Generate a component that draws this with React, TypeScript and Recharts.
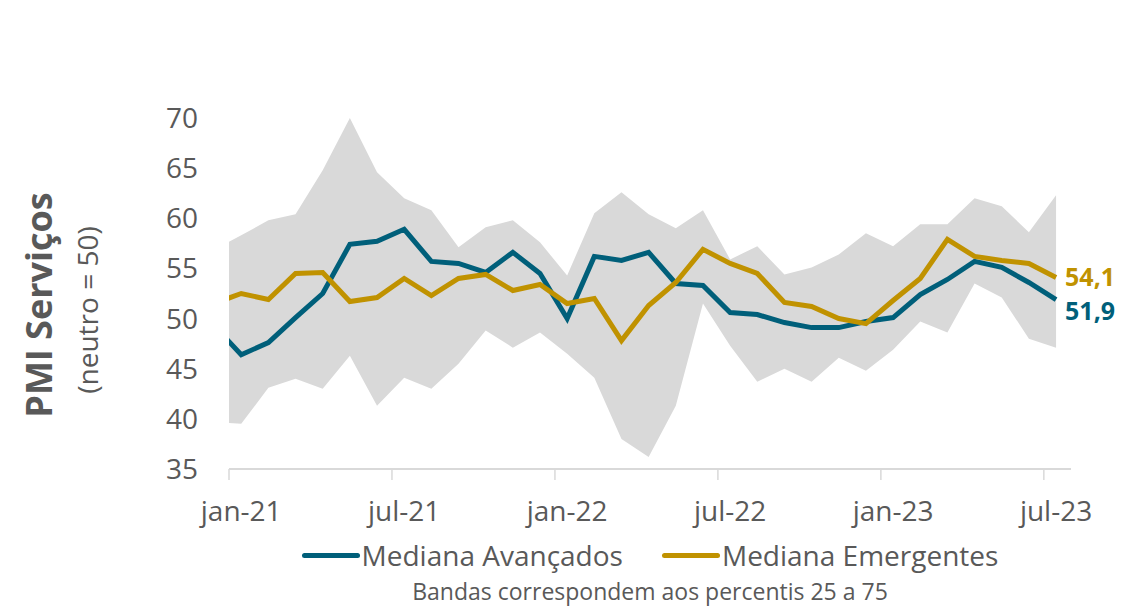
import React from 'react';
import { ComposedChart, Area, Line, XAxis, YAxis, Legend, LabelList } from 'recharts';

const months = [
  'dez-20',
  'jan-21', 'fev-21', 'mar-21', 'abr-21', 'mai-21', 'jun-21', 'jul-21', 'ago-21', 'set-21', 'out-21', 'nov-21', 'dez-21',
  'jan-22', 'fev-22', 'mar-22', 'abr-22', 'mai-22', 'jun-22', 'jul-22', 'ago-22', 'set-22', 'out-22', 'nov-22', 'dez-22',
  'jan-23', 'fev-23', 'mar-23', 'abr-23', 'mai-23', 'jun-23', 'jul-23',
];

const avancados = [
  49.3,
  46.4, 47.6, 50.1, 52.5, 57.4, 57.7, 58.9, 55.7, 55.5, 54.6, 56.6, 54.5,
  50.0, 56.2, 55.8, 56.6, 53.5, 53.3, 50.6, 50.4, 49.6, 49.1, 49.1, 49.7,
  50.1, 52.4, 53.9, 55.7, 55.1, 53.6, 51.9,
];

const emergentes = [
  51.5,
  52.5, 51.9, 54.5, 54.6, 51.7, 52.1, 54.0, 52.3, 54.0, 54.4, 52.8, 53.4,
  51.5, 52.0, 47.8, 51.3, 53.6, 56.9, 55.5, 54.5, 51.6, 51.2, 50.0, 49.5,
  51.8, 54.0, 57.9, 56.2, 55.8, 55.5, 54.1,
];

const p25 = [
  39.7,
  39.5, 43.1, 44.0, 43.0, 46.3, 41.3, 44.1, 43.0, 45.5, 48.8, 47.1, 48.6,
  46.5, 44.1, 38.0, 36.2, 41.3, 51.5, 47.3, 43.7, 45.0, 43.7, 46.1, 44.8,
  46.9, 49.7, 48.6, 53.5, 52.1, 48.0, 47.1,
];

const p75 = [
  56.9,
  58.3, 59.8, 60.4, 64.8, 70.0, 64.6, 62.0, 60.8, 57.1, 59.1, 59.8, 57.6,
  54.3, 60.5, 62.6, 60.4, 59.0, 60.8, 55.9, 57.2, 54.4, 55.1, 56.4, 58.5,
  57.2, 59.4, 59.4, 62.0, 61.2, 58.6, 62.3,
];

const tickLabels = ['jan-21', 'jul-21', 'jan-22', 'jul-22', 'jan-23', 'jul-23'];
const yTicks = [35, 40, 45, 50, 55, 60, 65, 70];

const TEAL = '#005F7A';
const GOLD = '#C09200';
const BAND = '#D9D9D9';
const TEXT = '#595959';
const FONT = '"Open Sans", sans-serif';

const CHART_W = 1140;
const CHART_H = 606;
const MARGIN = { top: 118, right: 69, bottom: 77, left: 0 };
const Y_AXIS_W = 229;
const X_DOMAIN: [number, number] = [0, 31];
const PX_PER_MONTH = (CHART_W - MARGIN.left - MARGIN.right - Y_AXIS_W) / (X_DOMAIN[1] - X_DOMAIN[0]);

// points sit mid-month; the first month (dez-20) is clipped by the axis start
const POINT_OFFSET = 0.45;
const data = months.map((m, i) => ({
  month: m,
  x: i - 1 + POINT_OFFSET,
  avancados: avancados[i],
  emergentes: emergentes[i],
  band: [p25[i], p75[i]],
}));
const boundaryTicks = tickLabels.map((_, i) => i * 6);

const fmt = (v: number) => v.toFixed(1).replace('.', ',');

const XTick = (props: any) => {
  const { x, y, payload } = props;
  const label = tickLabels[Math.round(payload.value / 6)];
  return (
    <text
      x={x + POINT_OFFSET * PX_PER_MONTH}
      y={y}
      dy="0.71em"
      textAnchor="middle"
      fill={TEXT}
      fontSize={28}
      fontFamily={FONT}
    >
      {label}
    </text>
  );
};

const endLabel = (color: string, dy: number) => (props: any) => {
  const { index, x, y, value } = props;
  if (index !== data.length - 1) return null;
  return (
    <text
      x={x + 9}
      y={y + dy}
      fill={color}
      fontFamily={FONT}
      fontSize={25}
      fontWeight={700}
      dominantBaseline="central"
    >
      {fmt(value)}
    </text>
  );
};

const renderLegend = (props: any) => {
  const items = (props.payload || []).filter((p: any) => p.type !== 'none');
  return (
    <div
      style={{
        display: 'flex',
        justifyContent: 'center',
        alignItems: 'center',
        gap: 39,
        fontFamily: FONT,
        fontSize: 28,
        color: TEXT,
        height: 40,
        lineHeight: '40px',
        whiteSpace: 'nowrap',
      }}
    >
      {items.map((p: any) => (
        <span key={p.value} style={{ display: 'flex', alignItems: 'center' }}>
          <span
            style={{
              display: 'inline-block',
              width: 58,
              height: 5,
              borderRadius: 3,
              background: p.color,
              marginRight: 2,
            }}
          />
          {p.value}
        </span>
      ))}
    </div>
  );
};

export default function App() {
  return (
    <div style={{ position: 'relative', width: CHART_W, height: CHART_H, background: '#fff', fontFamily: FONT }}>
      <style>{`body{margin:0}`}</style>
      <ComposedChart width={CHART_W} height={CHART_H} data={data} margin={MARGIN}>
        <XAxis
          type="number"
          dataKey="x"
          domain={X_DOMAIN}
          allowDataOverflow
          ticks={boundaryTicks}
          interval={0}
          tick={<XTick />}
          tickLine={{ stroke: BAND, strokeWidth: 1.5 }}
          tickSize={11}
          tickMargin={21}
          axisLine={{ stroke: BAND, strokeWidth: 2 }}
          height={60}
        />
        <YAxis
          type="number"
          domain={[35, 70]}
          allowDataOverflow
          ticks={yTicks}
          interval={0}
          width={Y_AXIS_W}
          axisLine={false}
          tickLine={false}
          tickSize={0}
          tickMargin={31}
          tick={{ fill: TEXT, fontSize: 28, fontFamily: FONT }}
        />
        <Area
          dataKey="band"
          name="Bandas"
          fill={BAND}
          fillOpacity={1}
          stroke="none"
          legendType="none"
          dot={false}
          activeDot={false}
          isAnimationActive={false}
        />
        <Line
          dataKey="avancados"
          name="Mediana Avançados"
          stroke={TEAL}
          strokeWidth={5}
          dot={false}
          activeDot={false}
          isAnimationActive={false}
        >
          <LabelList dataKey="avancados" content={endLabel(TEAL, 10)} />
        </Line>
        <Line
          dataKey="emergentes"
          name="Mediana Emergentes"
          stroke={GOLD}
          strokeWidth={5}
          dot={false}
          activeDot={false}
          isAnimationActive={false}
        >
          <LabelList dataKey="emergentes" content={endLabel(GOLD, -1)} />
        </Line>
        <Legend
          verticalAlign="middle"
          align="center"
          layout="horizontal"
          content={renderLegend}
          wrapperStyle={{ top: 535, left: 229, width: 842, height: 40 }}
        />
      </ComposedChart>

      <div
        style={{
          position: 'absolute',
          left: 38,
          top: 305,
          transform: 'translate(-50%, -50%) rotate(-90deg)',
          whiteSpace: 'nowrap',
          fontSize: 36,
          fontWeight: 700,
          color: TEXT,
        }}
      >
        PMI Serviços
      </div>
      <div
        style={{
          position: 'absolute',
          left: 87,
          top: 310,
          transform: 'translate(-50%, -50%) rotate(-90deg)',
          whiteSpace: 'nowrap',
          fontSize: 28,
          color: TEXT,
        }}
      >
        (neutro = 50)
      </div>
      <div
        style={{
          position: 'absolute',
          left: 229,
          width: 842,
          top: 575,
          textAlign: 'center',
          fontSize: 23,
          color: TEXT,
          whiteSpace: 'nowrap',
        }}
      >
        Bandas correspondem aos percentis 25 a 75
      </div>
    </div>
  );
}
